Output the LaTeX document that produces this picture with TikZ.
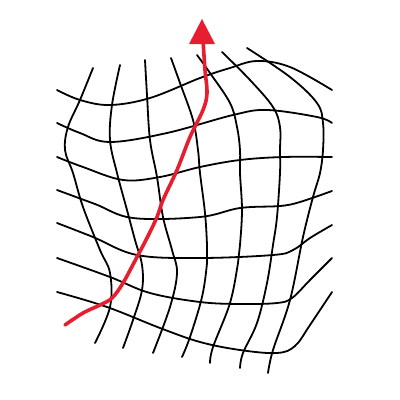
\documentclass[tikz,border=0pt]{standalone}
\definecolor{arrowred}{RGB}{230,30,48}
\tikzset{gridline/.style={black,line width=1.8pt,line cap=round},
  redpath/.style={arrowred,line width=3.6pt,line cap=round}}
\begin{document}
\begin{tikzpicture}[x=1pt,y=-1pt]
\useasboundingbox (0,0) rectangle (400,400);
% horizontal lines
\draw[gridline] plot[smooth,tension=0.6] coordinates {(57,90)(80,100)(110,105)(150,98)(200,78)(230,68)(257,61)(290,67)(332,90)};
\draw[gridline] plot[smooth,tension=0.6] coordinates {(57,123)(80,133)(110,142)(167,133)(233,115)(267,110)(317,117)(332,123)};
\draw[gridline] plot[smooth,tension=0.6] coordinates {(57,157)(83,167)(123,180)(160,177)(200,167)(240,160)(283,157)(332,157)};
\draw[gridline] plot[smooth,tension=0.6] coordinates {(57,190)(95,204)(133,218)(200,217)(240,208)(280,206)(300,202)(332,191)};
\draw[gridline] plot[smooth,tension=0.6] coordinates {(57,223)(93,237)(137,255)(200,258)(273,255)(293,250)(310,238)(332,225)};
\draw[gridline] plot[smooth,tension=0.6] coordinates {(57,258)(110,277)(150,293)(200,302)(240,304)(277,303)(292,298)(310,280)(332,258)};
\draw[gridline] plot[smooth,tension=0.6] coordinates {(57,292)(107,307)(160,328)(200,342)(240,350)(277,353)(295,346)(310,325)(332,292)};
% vertical lines
\draw[gridline] plot[smooth,tension=0.6] coordinates {(93,68)(80,100)(68,127)(65,150)(73,173)(83,207)(100,250)(110,273)(110,307)(95,343)};
\draw[gridline] plot[smooth,tension=0.6] coordinates {(120,65)(112,105)(110,140)(117,173)(127,210)(135,240)(142,265)(142,290)(133,320)(123,348)};
\draw[gridline] plot[smooth,tension=0.6] coordinates {(145,60)(147,95)(150,140)(157,177)(163,217)(172,250)(177,273)(170,307)(153,353)};
\draw[gridline] plot[smooth,tension=0.6] coordinates {(171,58)(180,83)(193,120)(198,150)(200,173)(205,213)(207,245)(207,263)(202,297)(190,337)(182,357)};
\draw[gridline] plot[smooth,tension=0.6] coordinates {(197,55)(210,73)(230,103)(237,127)(240,150)(240,173)(242,210)(240,245)(238,263)(230,303)(213,347)(210,363)};
\draw[gridline] plot[smooth,tension=0.6] coordinates {(222,52)(250,80)(273,107)(280,127)(280,150)(280,173)(277,217)(273,245)(267,283)(257,323)(243,353)(240,368)};
\draw[gridline] plot[smooth,tension=0.6] coordinates {(247,48)(290,77)(317,103)(323,123)(323,150)(320,173)(313,197)(303,237)(290,300)(273,350)(268,373)};
% red path with arrow
\draw[redpath] plot[smooth,tension=0.6] coordinates {(65,325)(83,313)(100,305)(112,298)(123,283)(137,257)(147,238)(157,217)(163,200)(177,170)(190,137)(203,110)(207,93)(205,70)(203,40)};
\fill[arrowred] (189,44) -- (202,19) -- (215,44) -- cycle;
\end{tikzpicture}
\end{document}
